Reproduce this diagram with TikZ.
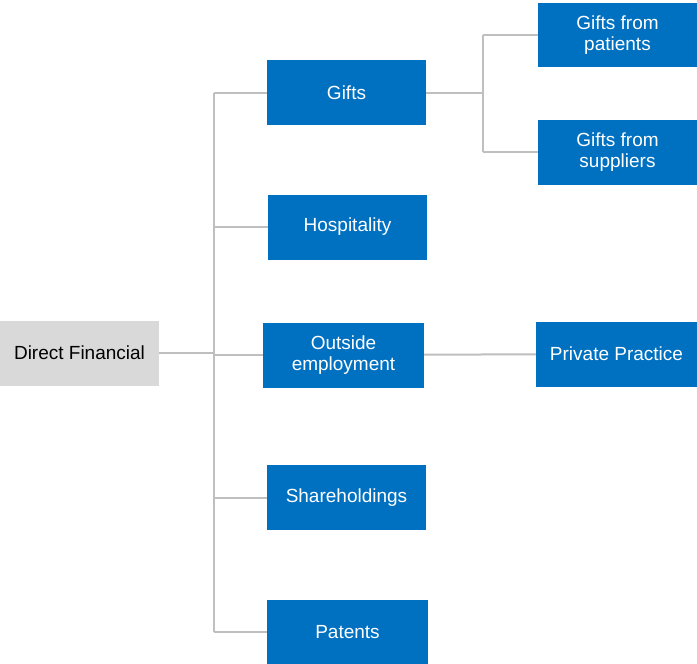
\documentclass[tikz,border=0pt]{standalone}
\usepackage{fontspec}
\setmainfont{Liberation Sans}
\usepackage{tikz}

\definecolor{boxblue}{HTML}{0070C0}
\definecolor{rootgray}{HTML}{D9D9D9}
\definecolor{linegray}{HTML}{BFBFBF}

\begin{document}
\begin{tikzpicture}[x=1pt,y=-1pt]
  \tikzset{item/.style = {fill=boxblue,text=white,minimum width=159pt,minimum height=65pt,inner sep=0pt,align=center,font=\fontsize{19}{21}\selectfont}}
  \tikzset{root/.style = {item,fill=rootgray,text=black}}
  \tikzset{link/.style = {draw=linegray,line width=2pt}}

  \useasboundingbox (0,0) rectangle (697,664);

\node[root] (direct)  at (79.5,353) {Direct Financial};

\node[item] (gifts)  at (346.5,92.5) {Gifts};
\node[item] (hosp)  at (347.5,227) {Hospitality};
\node[item,minimum width=161pt] (outside)  at (343.5,355) {Outside\\employment};
\node[item] (shares)  at (346.5,497.5) {Shareholdings};
\node[item,minimum width=161pt] (patents)  at (347.5,632) {Patents};

\node[item,minimum height=64pt] (gpat)  at (617.5,35) {Gifts from\\patients};
\node[item] (gsup)  at (617.5,152) {Gifts from\\suppliers};
\node[item,minimum width=161pt] (priv)  at (616.5,354) {Private Practice};

\coordinate (trunk) at (214,353);
\coordinate (gsplit) at (483,92.5);

  % main branches
  \path[link] (direct) -- (trunk);
  \path[link] (trunk |- gifts.west) -- (trunk |- patents.west);
  \path[link] (trunk |- gifts.west) -- (gifts.west);
  \path[link] (trunk |- hosp.west) -- (hosp.west);
  \path[link] (trunk |- outside.west) -- (outside.west);
  \path[link] (trunk |- shares.west) -- (shares.west);
  \path[link] (trunk |- patents.west) -- (patents.west);

  % gifts
  \path[link] (gifts) -- (gsplit);
  \path[link] (gsplit |- gpat.west) -- (gsplit |- gsup.west);
  \path[link] (gsplit |- gpat.west) -- (gpat.west);
  \path[link] (gsplit |- gsup.west) -- (gsup.west);

  % outside employment
  \path[link] (outside) -- (priv);

\end{tikzpicture}
\end{document}
